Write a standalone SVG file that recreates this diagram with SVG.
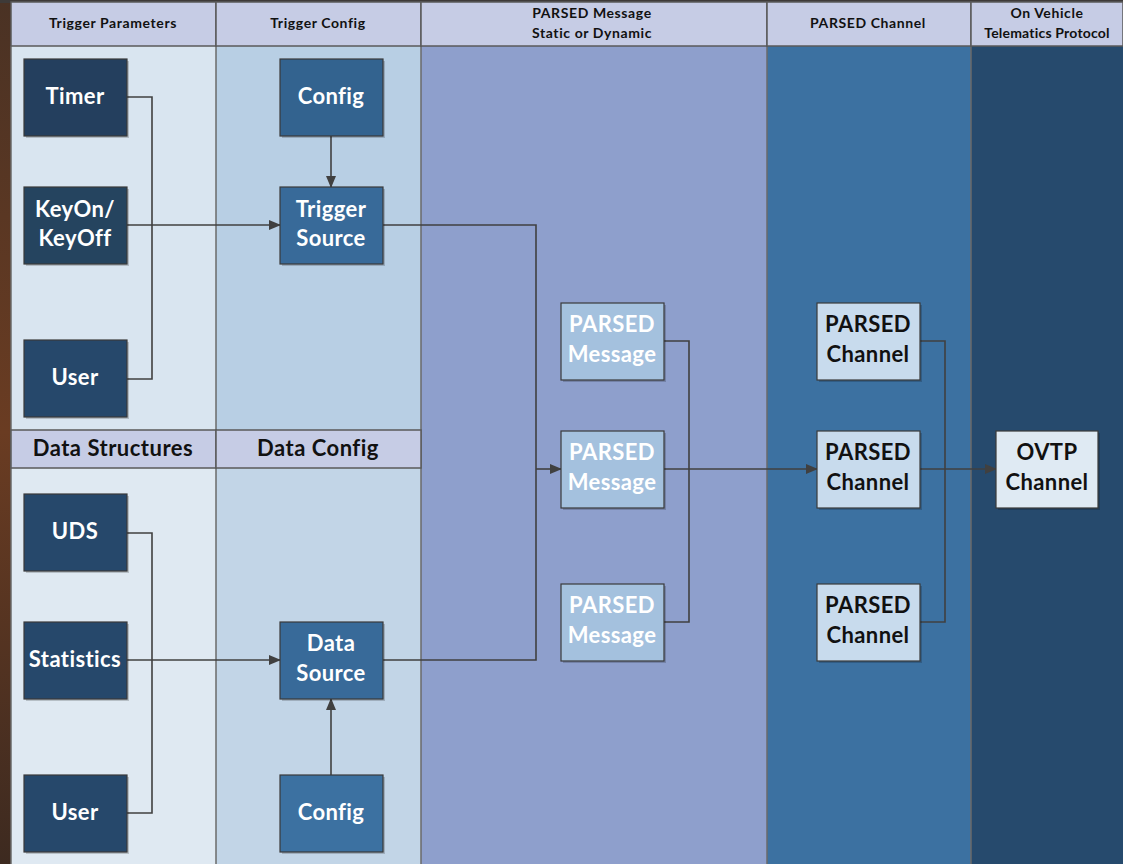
<svg xmlns="http://www.w3.org/2000/svg" width="1123" height="864" viewBox="0 0 1123 864">
<defs>
<style>
.hdr{fill:#c6cce5;stroke:#5a5a5a;stroke-width:1.5}
.ht{font-family:Lato,"Open Sans",sans-serif;font-weight:bold;font-size:14px;letter-spacing:0.6px;fill:#111;text-anchor:middle}
.ht2{font-family:Lato,"Open Sans",sans-serif;font-weight:bold;font-size:22px;letter-spacing:0.5px;fill:#111;text-anchor:middle}
.nt{font-family:Lato,"Open Sans",sans-serif;font-weight:bold;font-size:22px;letter-spacing:0.4px;text-anchor:middle}
.w{fill:#fff}
.k{fill:#111}
.box{stroke:#3a3a3a;stroke-width:1.2}
.sh{fill:#000;opacity:0.18}
.c{fill:none;stroke:#404040;stroke-width:1.6}
</style>
<marker id="ah" markerWidth="12" markerHeight="10" refX="11" refY="5" orient="auto" markerUnits="userSpaceOnUse">
<path d="M0,0 L12,5 L0,10 Z" fill="#404040"/>
</marker>
<linearGradient id="bg" x1="0" y1="0" x2="0" y2="1">
<stop offset="0" stop-color="#4a3224"/><stop offset="0.5" stop-color="#6a3c22"/><stop offset="1" stop-color="#3d2a20"/>
</linearGradient>
</defs>
<rect x="0" y="0" width="1123" height="864" fill="url(#bg)"/>
<rect x="0" y="0" width="1123" height="3" fill="#3e3a38"/>
<!-- column bodies -->
<rect x="11" y="46" width="205" height="384" fill="#d9e5f0"/>
<rect x="216" y="46" width="205" height="384" fill="#b8cfe4"/>
<rect x="11" y="468" width="205" height="396" fill="#dfe9f2"/>
<rect x="216" y="468" width="205" height="396" fill="#c2d5e7"/>
<rect x="421" y="46" width="346" height="818" fill="#8e9fcc"/>
<rect x="767" y="46" width="204" height="818" fill="#3c71a1"/>
<rect x="971" y="46" width="152" height="818" fill="#264a6d"/>
<g stroke="#6a6a6a" stroke-width="1.5">
<line x1="216" y1="46" x2="216" y2="864"/>
<line x1="421" y1="46" x2="421" y2="864"/>
<line x1="767" y1="46" x2="767" y2="864"/>
<line x1="971" y1="46" x2="971" y2="864"/>
<line x1="11" y1="46" x2="11" y2="864"/>
</g>
<!-- headers -->
<g id="headers">
<rect class="hdr" x="11" y="2" width="205" height="44"/>
<rect class="hdr" x="216" y="2" width="205" height="44"/>
<rect class="hdr" x="421" y="2" width="346" height="44"/>
<rect class="hdr" x="767" y="2" width="204" height="44"/>
<rect class="hdr" x="971" y="2" width="152" height="44"/>
<text class="ht" x="113" y="28">Trigger Parameters</text>
<text class="ht" x="318" y="28">Trigger Config</text>
<text class="ht" x="592" y="18">PARSED Message</text>
<text class="ht" x="592" y="38">Static or Dynamic</text>
<text class="ht" x="868" y="28">PARSED Channel</text>
<text class="ht" x="1047" y="18">On Vehicle</text>
<text class="ht" x="1047" y="38" style="letter-spacing:0.2px">Telematics Protocol</text>
<rect class="hdr" x="11" y="430" width="205" height="38" fill="#d4dced"/>
<rect class="hdr" x="216" y="430" width="205" height="38" fill="#d4dced"/>
<text class="ht2" x="113" y="456">Data Structures</text>
<text class="ht2" x="318" y="456">Data Config</text>
</g>
<!-- connectors -->
<g id="connectors">
<polyline class="c" points="127,97 152,97 152,379 127,379"/>
<line class="c" x1="127" y1="225" x2="280" y2="225" marker-end="url(#ah)"/>
<line class="c" x1="331" y1="136" x2="331" y2="187" marker-end="url(#ah)"/>
<polyline class="c" points="383,225 536,225 536,660 383,660"/>
<line class="c" x1="536" y1="469" x2="561" y2="469" marker-end="url(#ah)"/>
<polyline class="c" points="664,341 689,341 689,622 664,622"/>
<line class="c" x1="664" y1="469" x2="817" y2="469" marker-end="url(#ah)"/>
<polyline class="c" points="920,341 945,341 945,622 920,622"/>
<line class="c" x1="920" y1="469" x2="996" y2="469" marker-end="url(#ah)"/>
<polyline class="c" points="127,533 152,533 152,813 127,813"/>
<line class="c" x1="127" y1="660" x2="280" y2="660" marker-end="url(#ah)"/>
<line class="c" x1="331" y1="775" x2="331" y2="699" marker-end="url(#ah)"/>
</g>
<!-- nodes -->
<g id="timer"><rect class="sh" x="26" y="61" width="103" height="77"/><rect class="box" x="24" y="59" width="103" height="77" fill="#243f5e"/><text class="nt w" x="75" y="104">Timer</text></g>
<g id="keyon"><rect class="sh" x="26" y="189" width="103" height="77"/><rect class="box" x="24" y="187" width="103" height="77" fill="#25445f"/><text class="nt w" x="75" y="217">KeyOn/</text><text class="nt w" x="75" y="246">KeyOff</text></g>
<g id="user1"><rect class="sh" x="26" y="342" width="103" height="77"/><rect class="box" x="24" y="340" width="103" height="77" fill="#26486b"/><text class="nt w" x="75" y="385">User</text></g>
<g id="config1"><rect class="sh" x="282" y="61" width="103" height="77"/><rect class="box" x="280" y="59" width="103" height="77" fill="#33638f"/><text class="nt w" x="331" y="104">Config</text></g>
<g id="trigsrc"><rect class="sh" x="282" y="189" width="103" height="77"/><rect class="box" x="280" y="187" width="103" height="77" fill="#386a99"/><text class="nt w" x="331" y="217">Trigger</text><text class="nt w" x="331" y="246">Source</text></g>
<g id="uds"><rect class="sh" x="26" y="496" width="103" height="77"/><rect class="box" x="24" y="494" width="103" height="77" fill="#26486b"/><text class="nt w" x="75" y="539">UDS</text></g>
<g id="stats"><rect class="sh" x="26" y="624" width="103" height="77"/><rect class="box" x="24" y="622" width="103" height="77" fill="#26486b"/><text class="nt w" x="75" y="667">Statistics</text></g>
<g id="user2"><rect class="sh" x="26" y="777" width="103" height="77"/><rect class="box" x="24" y="775" width="103" height="77" fill="#26486b"/><text class="nt w" x="75" y="820">User</text></g>
<g id="datasrc"><rect class="sh" x="282" y="624" width="103" height="77"/><rect class="box" x="280" y="622" width="103" height="77" fill="#386a99"/><text class="nt w" x="331" y="651">Data</text><text class="nt w" x="331" y="681">Source</text></g>
<g id="config2"><rect class="sh" x="282" y="777" width="103" height="77"/><rect class="box" x="280" y="775" width="103" height="77" fill="#3c71a1"/><text class="nt w" x="331" y="820">Config</text></g>
<g id="msg1"><rect class="sh" x="563" y="305" width="103" height="77"/><rect class="box" x="561" y="303" width="103" height="77" fill="#a4c1de"/><text class="nt w" x="612" y="332">PARSED</text><text class="nt w" x="612" y="362">Message</text></g>
<g id="msg2"><rect class="sh" x="563" y="433" width="103" height="77"/><rect class="box" x="561" y="431" width="103" height="77" fill="#a4c1de"/><text class="nt w" x="612" y="460">PARSED</text><text class="nt w" x="612" y="490">Message</text></g>
<g id="msg3"><rect class="sh" x="563" y="586" width="103" height="77"/><rect class="box" x="561" y="584" width="103" height="77" fill="#a4c1de"/><text class="nt w" x="612" y="613">PARSED</text><text class="nt w" x="612" y="643">Message</text></g>
<g id="ch1"><rect class="sh" x="819" y="305" width="103" height="77"/><rect class="box" x="817" y="303" width="103" height="77" fill="#c8dbed"/><text class="nt k" x="868" y="332">PARSED</text><text class="nt k" x="868" y="362">Channel</text></g>
<g id="ch2"><rect class="sh" x="819" y="433" width="103" height="77"/><rect class="box" x="817" y="431" width="103" height="77" fill="#c8dbed"/><text class="nt k" x="868" y="460">PARSED</text><text class="nt k" x="868" y="490">Channel</text></g>
<g id="ch3"><rect class="sh" x="819" y="586" width="103" height="77"/><rect class="box" x="817" y="584" width="103" height="77" fill="#c8dbed"/><text class="nt k" x="868" y="613">PARSED</text><text class="nt k" x="868" y="643">Channel</text></g>
<g id="ovtp"><rect class="sh" x="998" y="433" width="102" height="77"/><rect class="box" x="996" y="431" width="102" height="77" fill="#dfeaf3"/><text class="nt k" x="1047" y="460">OVTP</text><text class="nt k" x="1047" y="490">Channel</text></g>
</svg>
